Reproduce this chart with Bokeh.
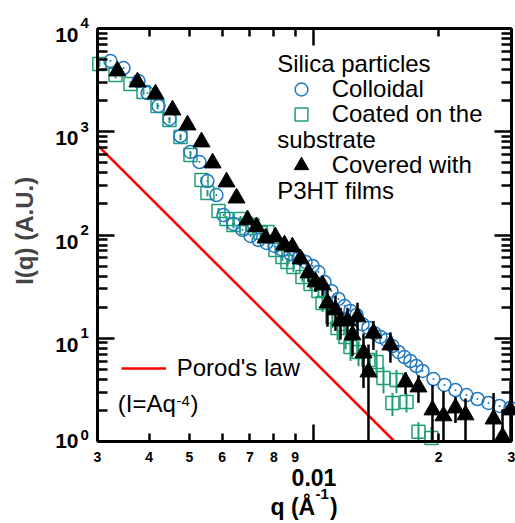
import math
from bokeh.plotting import figure
from bokeh.models import Label, Legend, LegendItem, LogAxis, FixedTicker, ColumnDataSource, Range1d
from bokeh.core.properties import value
from bokeh.embed import file_html
from bokeh.resources import INLINE

# ---------------- data ----------------
colloidal_q = [0.003225, 0.003467, 0.003768, 0.003963, 0.004211, 0.004477, 0.00476, 0.005031,
               0.00529, 0.00553, 0.005813, 0.006044, 0.00639, 0.00672, 0.00703, 0.00735, 0.00768,
               0.00803, 0.00839, 0.00878, 0.00918, 0.00954, 0.00992, 0.01025, 0.0106, 0.01102,
               0.01146, 0.01185, 0.01225, 0.01267, 0.0131, 0.01354, 0.014, 0.01447, 0.01496,
               0.01547, 0.016, 0.01654, 0.0171, 0.01768, 0.01829, 0.01944, 0.02067, 0.02197,
               0.02335, 0.02483, 0.02639, 0.02806, 0.02983]
colloidal_I = [4840, 4140, 3100, 2373, 1776, 1329, 909, 637, 509, 333, 244, 156, 128, 112, 97.8,
               89.4, 83.7, 78.3, 71.6, 65.5, 59.9, 54.8, 50.1, 43.8, 35.1, 28.7, 24.0, 20.5, 18.4,
               16.8, 13.7, 12.6, 11.2, 10.3, 9.62, 8.41, 7.36, 6.58, 6.02, 5.38, 4.82, 4.03, 3.53,
               3.15, 2.82, 2.58, 2.36, 2.21, 2.11]

coated_q = [0.00303, 0.003316, 0.003604, 0.003874, 0.004188, 0.004477, 0.00476, 0.005031, 0.00535,
            0.00553, 0.00588, 0.00615, 0.00639, 0.00665, 0.00687, 0.0071, 0.00743, 0.00772,
            0.00807, 0.00839, 0.00863, 0.00892, 0.00938, 0.00981, 0.01025, 0.01049, 0.01108,
            0.0114, 0.01192, 0.01225, 0.01281, 0.01354, 0.01416, 0.01472, 0.01582, 0.01547,
            0.01673, 0.01788, 0.01922]
coated_I = [4530, 3545, 2900, 2427, 1776, 1300, 889, 595, 341, 255, 171, 143, 125, 143, 117, 125,
            105, 107, 71.6, 61.2, 54.8, 49.0, 39.2, 33.5, 28.7, 21.9, 16.1, 12.6, 10.3, 8.23, 7.36,
            6.16, 5.89, 4.12, 3.94, 2.36, 2.41, 1.24, 1.08]
coated_err = [300, 240, 200, 170, 120, 90, 60, 40, 24, 18, 12, 10, 9, 10, 8, 9, 8, 8, 6, 5, 5, 5,
              4, 4, 4, 4, 3.5, 3, 2.5, 2.2, 2, 1.8, 1.8, 1.2, 1.0, 0.6, 0.5, 0.3, 0.3]

covered_q = [0.00335, 0.003747, 0.004142, 0.004552, 0.004949, 0.00535, 0.00569, 0.00615, 0.0065,
             0.00691, 0.00726, 0.00764, 0.00807, 0.00849, 0.00887, 0.00928, 0.0097, 0.01009,
             0.01049, 0.01078, 0.01127, 0.01159, 0.01205, 0.01274, 0.01239, 0.01317, 0.01354,
             0.01392, 0.0153, 0.01664, 0.01788, 0.01933, 0.02055, 0.02197, 0.02323, 0.02715,
             0.02854, 0.02983]
covered_I = [3876, 3032, 2321, 1624, 1163, 796, 498, 326, 228, 140, 120, 93.5, 95.6, 80.0, 76.5,
             58.6, 42.9, 35.1, 32.8, 21.9, 18.8, 14.7, 14.7, 16.1, 10.75, 7.20, 4.71, 11.2, 8.60,
             3.77, 3.37, 2.02, 1.77, 2.11, 1.81, 1.65, 1.11, 2.02]
covered_err = [150, 120, 90, 65, 45, 30, 20, 14, 10, 7, 6, 7, 7, 8, 8, 8, 8, 7, 7, 9, 7, 5, 5, 6,
               4, 3.9, 4.0, 3.5, 2.8, 0.9, 1.0, 1.5, 1.3, 0.6, 0.8, 1.3, 0.9, 1.8]

porod_A = 6.0e-8                 # Porod's law, I = A q^-4

Q_MIN, Q_MAX = 0.003, 0.03
I_MIN, I_MAX = 1, 1e4
x_major = [0.01]
x_minor = [0.003, 0.004, 0.005, 0.006, 0.007, 0.008, 0.009, 0.02, 0.03]
x_tick_vals = [0.003, 0.004, 0.005, 0.006, 0.007, 0.008, 0.009, 0.02, 0.03]
x_tick_text = ["3", "4", "5", "6", "7", "8", "9", "2", "3"]
y_major = [1, 10, 100, 1000, 10000]
y_exp = ["0", "1", "2", "3", "4"]
y_minor = [m * d for d in [1, 10, 100, 1000] for m in range(2, 10)]

BLUE = "#2079c0"
GREEN = "#1f9e76"
FONT = "Liberation Sans"

# ---------------- layout (pixels) ----------------
W, H = 515, 523
PL, PR, PT, PB = 97, 511, 28, 441          # plot box edges on the canvas
dec_x = (PR - PL) / math.log10(Q_MAX / Q_MIN)
dec_y = (PB - PT) / math.log10(I_MAX / I_MIN)
x_lo = Q_MIN * 10 ** (-PL / dec_x)
x_hi = Q_MAX * 10 ** ((W - PR) / dec_x)
y_lo = I_MIN * 10 ** (-(H - PB) / dec_y)
y_hi = I_MAX * 10 ** (PT / dec_y)

p = figure(width=W, height=H, x_axis_type="log", y_axis_type="log",
           x_axis_location=None, y_axis_location=None,
           x_range=Range1d(x_lo, x_hi), y_range=Range1d(y_lo, y_hi),
           output_backend="svg", toolbar_location=None, min_border=0)
p.xgrid.visible = False
p.ygrid.visible = False
p.outline_line_color = None


def make_axis(side, loc, bounds, major, minor, maj_len, min_len):
    ax = LogAxis(fixed_location=loc, bounds=bounds,
                 ticker=FixedTicker(ticks=major, minor_ticks=minor))
    ax.axis_line_width = 3
    ax.axis_line_color = "black"
    ax.major_tick_in = maj_len
    ax.major_tick_out = 0
    ax.minor_tick_in = min_len
    ax.minor_tick_out = 0
    ax.major_tick_line_width = 2.5
    ax.minor_tick_line_width = 2.5
    ax.major_label_text_color = None
    ax.major_label_text_font_size = "1px"
    ax.major_label_standoff = 0
    p.add_layout(ax, side)


make_axis("below", I_MIN, (Q_MIN, Q_MAX), x_major, x_minor, 17, 8)
make_axis("above", I_MAX, (Q_MIN, Q_MAX), x_major, x_minor, 17, 8)
make_axis("left", Q_MIN, (I_MIN, I_MAX), y_major, y_minor, 17, 10)
make_axis("right", Q_MAX, (I_MIN, I_MAX), y_major, y_minor, 17, 10)

# ---------------- glyphs ----------------
src_sq = ColumnDataSource(dict(q=coated_q, I=coated_I,
                               lo=[max(i - e, I_MIN) for i, e in zip(coated_I, coated_err)],
                               hi=[i + e for i, e in zip(coated_I, coated_err)]))
src_ci = ColumnDataSource(dict(q=colloidal_q, I=colloidal_I))
src_tr = ColumnDataSource(dict(q=covered_q, I=covered_I,
                               lo=[max(i - e, I_MIN) for i, e in zip(covered_I, covered_err)],
                               hi=[i + e for i, e in zip(covered_I, covered_err)]))

porod_q = [Q_MIN, porod_A ** 0.25]
por = p.line(porod_q, [porod_A * q ** -4 for q in porod_q], line_color="#ff0000", line_width=2.5)

p.segment(x0="q", y0="lo", x1="q", y1="hi", source=src_sq, line_color=GREEN, line_width=2)
sq = p.scatter("q", "I", source=src_sq, marker="square", size=13, fill_color=None,
               line_color=GREEN, line_width=1.5)
ci = p.scatter("q", "I", source=src_ci, marker="circle", size=13, fill_color=None,
               line_color=BLUE, line_width=1.5)
p.scatter("q", "I", source=src_ci, marker="dot", size=8, line_color=BLUE, fill_color=BLUE)
p.segment(x0="q", y0="lo", x1="q", y1="hi", source=src_tr, line_color="black", line_width=2.5)
tr = p.scatter("q", "I", source=src_tr, marker="triangle", size=17, fill_color="black",
               line_color="black")


# ---------------- legends ----------------
def add_legend(text, rend, cx, cy, gw, gh, standoff):
    leg = Legend(items=[LegendItem(label=value(text), renderers=[rend])],
                 location=(cx - gw / 2, H - (cy + gh / 2)),
                 glyph_width=gw, glyph_height=gh, label_standoff=standoff,
                 label_height=gh, padding=0, margin=0, spacing=0,
                 border_line_color=None, background_fill_alpha=0,
                 label_text_font=FONT, label_text_font_size="24px",
                 label_text_color="black")
    p.add_layout(leg, "center")


add_legend("Colloidal", ci, 300.7, 88.7, 32, 32, 15)
add_legend("Coated on the", sq, 300.7, 114, 32, 32, 15)
add_legend("Covered with", tr, 300.7, 164.6, 36, 36, 13)
add_legend("Porod's law", por, 143.2, 368, 45, 30, 11)

SHIFT = 0.35   # labels are centred on their anchor: move anchor up from the baseline


def lab(text, size, x, y, ox, down, bold=False, align="left"):
    """Text anchored at data point (x, y), moved ox px right; its baseline lies `down` px below."""
    p.add_layout(Label(x=x, y=y, x_offset=ox, y_offset=-down + SHIFT * size,
                       text=text, text_font=FONT, text_font_size=f"{size}px",
                       text_font_style="bold" if bold else "normal",
                       text_align=align, text_baseline="alphabetic", text_color="black"))


def lab_px(text, size, cx, base_y, bold=False, align="left"):
    """Text placed by canvas pixel position, measured from the plot box corner."""
    lab(text, size, Q_MIN, I_MIN, cx - PL, base_y - PB, bold, align)


lab_px("Silica particles", 24, 276.7, 71.7)
lab_px("substrate", 24, 276.7, 147.0)
lab_px("P3HT films", 24, 276.7, 198.0)
lab_px("(I=Aq", 24, 117.3, 411.7)
lab_px("-4", 15, 176, 406)
lab_px(")", 24, 190, 411.7)

# axis titles
p.add_layout(Label(x=Q_MIN, y=I_MIN, x_offset=23.5 - PL, y_offset=PB - 227, text="I(q)  (A.U.)",
                   text_font=FONT, text_font_size="24px", text_font_style="bold",
                   text_align="center", text_baseline="alphabetic", angle=math.pi / 2))
lab_px("q (Å", 23, 270, 515, bold=True)
lab_px("-1", 15, 315, 499, bold=True)
lab_px(")", 23, 329.5, 515, bold=True)

# x tick labels
for v, t in zip(x_tick_vals, x_tick_text):
    lab(t, 14, v, I_MIN, 0, 20, bold=True, align="center")
lab("0.01", 23, 0.01, I_MIN, 0, 44, bold=True, align="center")

# y tick labels 10^n
for v, e in zip(y_major, y_exp):
    down = 7 if v == 1 else 14
    lab("10", 21, Q_MIN, v, -19, down, bold=True, align="right")
    lab(e, 15, Q_MIN, v, -17, -1 if v == 1 else 0, bold=True, align="left")

open("out.html", "w").write(file_html(p, INLINE))
